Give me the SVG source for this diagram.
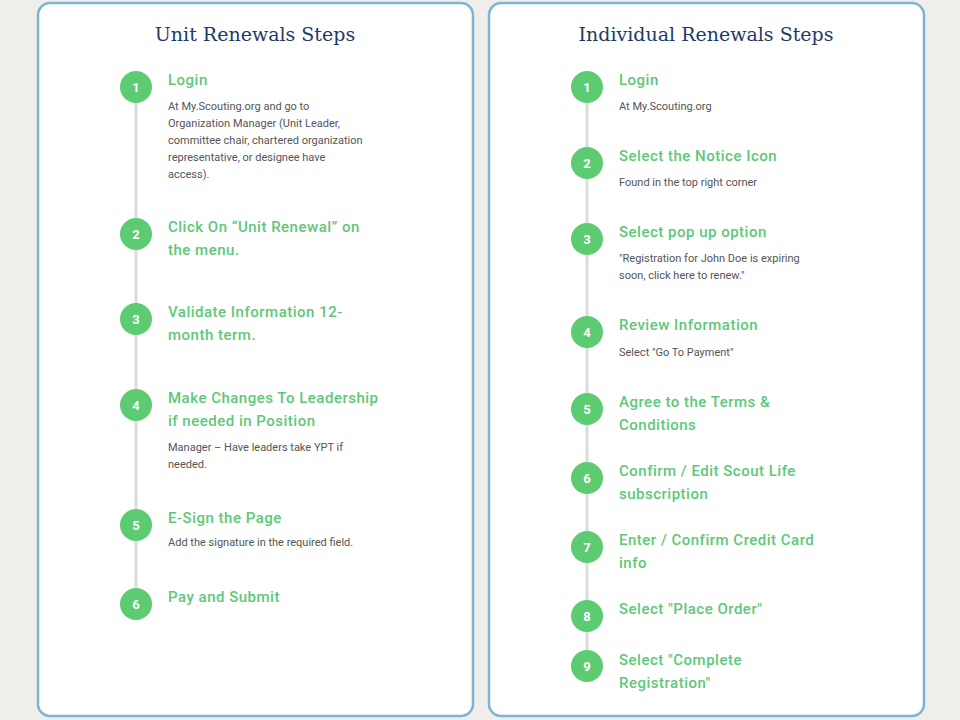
<svg xmlns="http://www.w3.org/2000/svg" width="960" height="720" viewBox="0 0 960 720">
<style>
.panel{fill:#fff;stroke:#7db3d3;stroke-width:2.5}
.title{font-family:"DejaVu Serif",serif;font-size:19px;fill:#1e3a66;text-anchor:middle}
.c{fill:#5ccb72}
.n{font-family:Roboto,"Liberation Sans",sans-serif;font-size:13px;font-weight:bold;fill:#fff;text-anchor:middle}
.h{font-family:Roboto,"Liberation Sans",sans-serif;font-size:15px;font-weight:500;fill:#5ec879;letter-spacing:0.5px}
.d{font-family:Roboto,"Liberation Sans",sans-serif;font-size:11px;fill:#555}
.line{stroke:#dcdcdc;stroke-width:3}
</style>
<rect width="960" height="720" fill="#efeeea"/>
<rect class="panel" x="38" y="3" width="435" height="713" rx="12"/>
<rect class="panel" x="489" y="3" width="435" height="713" rx="12"/>
<text class="title" x="255" y="41">Unit Renewals Steps</text>
<text class="title" x="706" y="41">Individual Renewals Steps</text>
<g id="connectors">
<line class="line" x1="136" y1="87" x2="136" y2="604"/>
<line class="line" x1="587" y1="87" x2="587" y2="666"/>
</g>
<g id="u1"><circle class="c" cx="136" cy="87" r="16"/><text class="n" x="136" y="92">1</text><text class="h" x="168" y="85">Login</text><text class="d" x="168" y="110">At My.Scouting.org and go to</text><text class="d" x="168" y="127">Organization Manager (Unit Leader,</text><text class="d" x="168" y="144">committee chair, chartered organization</text><text class="d" x="168" y="161">representative, or designee have</text><text class="d" x="168" y="178">access).</text></g>
<g id="u2"><circle class="c" cx="136" cy="234" r="16"/><text class="n" x="136" y="239">2</text><text class="h" x="168" y="232">Click On “Unit Renewal” on</text><text class="h" x="168" y="255">the menu.</text></g>
<g id="u3"><circle class="c" cx="136" cy="319" r="16"/><text class="n" x="136" y="324">3</text><text class="h" x="168" y="317">Validate Information 12-</text><text class="h" x="168" y="340">month term.</text></g>
<g id="u4"><circle class="c" cx="136" cy="405" r="16"/><text class="n" x="136" y="410">4</text><text class="h" x="168" y="403">Make Changes To Leadership</text><text class="h" x="168" y="426">if needed in Position</text><text class="d" x="168" y="451">Manager – Have leaders take YPT if</text><text class="d" x="168" y="468">needed.</text></g>
<g id="u5"><circle class="c" cx="136" cy="525" r="16"/><text class="n" x="136" y="530">5</text><text class="h" x="168" y="523">E-Sign the Page</text><text class="d" x="168" y="546">Add the signature in the required field.</text></g>
<g id="u6"><circle class="c" cx="136" cy="604" r="16"/><text class="n" x="136" y="609">6</text><text class="h" x="168" y="602">Pay and Submit</text></g>
<g id="i1"><circle class="c" cx="587" cy="87" r="16"/><text class="n" x="587" y="92">1</text><text class="h" x="619" y="85">Login</text><text class="d" x="619" y="110">At My.Scouting.org</text></g>
<g id="i2"><circle class="c" cx="587" cy="163" r="16"/><text class="n" x="587" y="168">2</text><text class="h" x="619" y="161">Select the Notice Icon</text><text class="d" x="619" y="186">Found in the top right corner</text></g>
<g id="i3"><circle class="c" cx="587" cy="239" r="16"/><text class="n" x="587" y="244">3</text><text class="h" x="619" y="237">Select pop up option</text><text class="d" x="619" y="262">"Registration for John Doe is expiring</text><text class="d" x="619" y="279">soon, click here to renew."</text></g>
<g id="i4"><circle class="c" cx="587" cy="332" r="16"/><text class="n" x="587" y="337">4</text><text class="h" x="619" y="330">Review Information</text><text class="d" x="619" y="356">Select "Go To Payment"</text></g>
<g id="i5"><circle class="c" cx="587" cy="409" r="16"/><text class="n" x="587" y="414">5</text><text class="h" x="619" y="407">Agree to the Terms &amp;</text><text class="h" x="619" y="430">Conditions</text></g>
<g id="i6"><circle class="c" cx="587" cy="478" r="16"/><text class="n" x="587" y="483">6</text><text class="h" x="619" y="476">Confirm / Edit Scout Life</text><text class="h" x="619" y="499">subscription</text></g>
<g id="i7"><circle class="c" cx="587" cy="547" r="16"/><text class="n" x="587" y="552">7</text><text class="h" x="619" y="545">Enter / Confirm Credit Card</text><text class="h" x="619" y="568">info</text></g>
<g id="i8"><circle class="c" cx="587" cy="616" r="16"/><text class="n" x="587" y="621">8</text><text class="h" x="619" y="614">Select "Place Order"</text></g>
<g id="i9"><circle class="c" cx="587" cy="666" r="16"/><text class="n" x="587" y="671">9</text><text class="h" x="619" y="665">Select "Complete</text><text class="h" x="619" y="688">Registration"</text></g>
</svg>
